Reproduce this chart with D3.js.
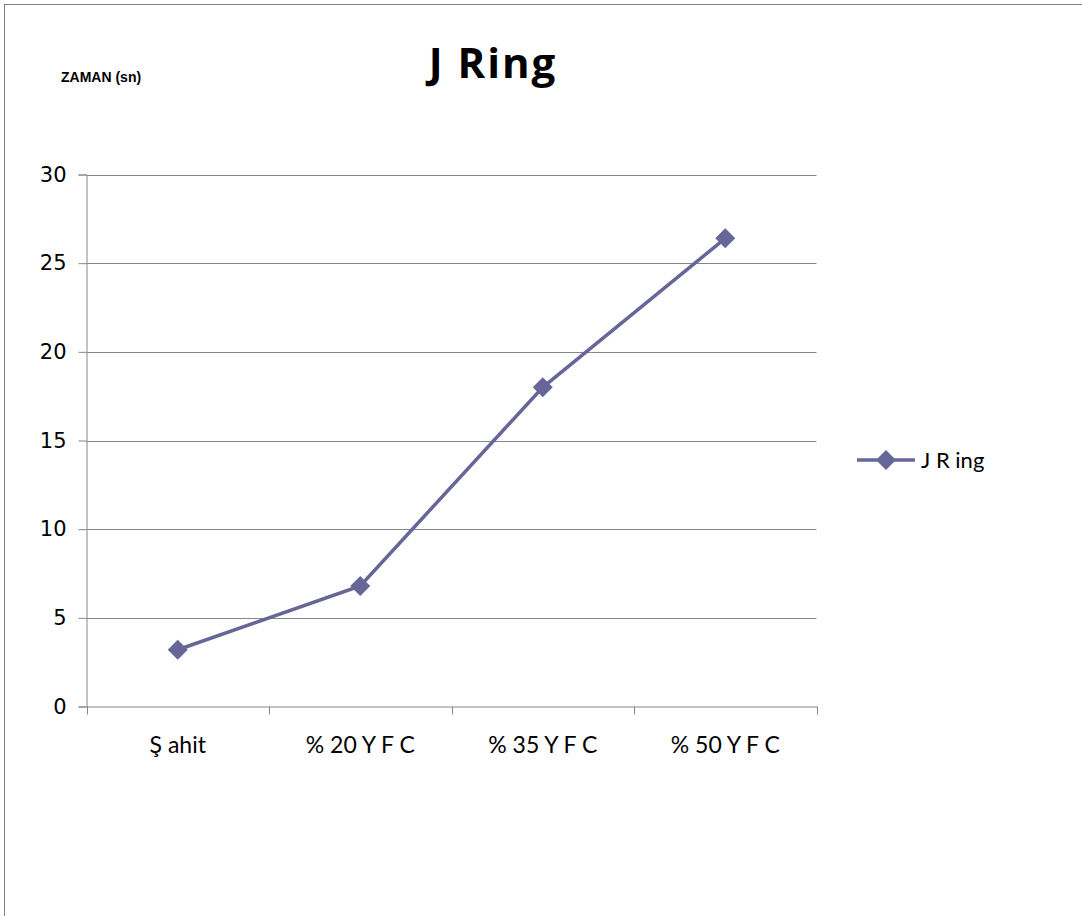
<!DOCTYPE html>
<html>
<head>
<meta charset="utf-8">
<script src="https://cdn.jsdelivr.net/npm/d3@7"></script>
<style>
  html, body { margin: 0; padding: 0; background: #fff; }
  svg { display: block; }
</style>
</head>
<body>
<svg id="chart" width="1082" height="916"></svg>
<script>
// J Ring flow times per mix
const categories = ["Ş ahit", "% 20 Y F C", "% 35 Y F C", "% 50 Y F C"];
const values = [3.2, 6.8, 18.0, 26.4];
const yTicks = [0, 5, 10, 15, 20, 25, 30];
const seriesName = "J R ing";
const titleText = "J Ring";
const yAxisTitle = "ZAMAN (sn)";

const W = 1082, H = 916;
const svg = d3.select("#chart");
const color = "#666699";
const gridColor = "#868686";
const labelFont = "Lato, 'Open Sans', sans-serif";

// outer frame
svg.append("rect")
  .attr("x", 4.5).attr("y", 4.5)
  .attr("width", W + 10).attr("height", H + 10)
  .attr("fill", "none").attr("stroke", "#808080").attr("stroke-width", 1);

const plot = { left: 86.5, right: 816.5, top: 174.5, bottom: 706.5 };

const x = d3.scaleBand().domain(categories).range([plot.left, plot.right]);
const y = d3.scaleLinear().domain([0, 30]).range([plot.bottom, plot.top]);

// horizontal gridlines
svg.append("g")
  .selectAll("line")
  .data(yTicks.filter(d => d > 0))
  .join("line")
  .attr("x1", plot.left).attr("x2", plot.right)
  .attr("y1", d => Math.round(y(d)) + 0.5).attr("y2", d => Math.round(y(d)) + 0.5)
  .attr("stroke", gridColor).attr("stroke-width", 1);

// y axis
const yAxis = svg.append("g")
  .attr("transform", `translate(${plot.left},0)`)
  .call(d3.axisLeft(y).tickValues(yTicks).tickSize(8).tickPadding(12).tickFormat(d3.format("d")));
yAxis.select(".domain").attr("stroke", gridColor);
yAxis.selectAll(".tick line").attr("stroke", gridColor);
yAxis.selectAll(".tick text")
  .attr("font-family", "'DejaVu Sans', sans-serif")
  .attr("font-size", 21).attr("fill", "#000");

// x axis
const xAxis = svg.append("g")
  .attr("transform", `translate(0,${plot.bottom})`)
  .call(d3.axisBottom(x).tickSize(0).tickPadding(30));
xAxis.select(".domain").attr("stroke", gridColor);
xAxis.selectAll(".tick text")
  .attr("font-family", labelFont)
  .attr("font-size", 23).attr("fill", "#000");

// tick marks at category boundaries
const bounds = [plot.left].concat(categories.map(c => x(c) + x.bandwidth()));
svg.append("g").selectAll("line")
  .data(bounds)
  .join("line")
  .attr("x1", d => Math.round(d) + 0.5).attr("x2", d => Math.round(d) + 0.5)
  .attr("y1", plot.bottom).attr("y2", plot.bottom + 8)
  .attr("stroke", gridColor);

// series line
const cx = c => x(c) + x.bandwidth() / 2;
const line = d3.line().x((d, i) => cx(categories[i])).y(d => y(d));
svg.append("path")
  .datum(values)
  .attr("d", line)
  .attr("fill", "none")
  .attr("stroke", color)
  .attr("stroke-width", 3.5);

// diamond markers
const diamond = d3.symbol().type(d3.symbolSquare).size(200);
svg.append("g").selectAll("path")
  .data(values)
  .join("path")
  .attr("d", diamond)
  .attr("transform", (d, i) => `translate(${cx(categories[i])},${y(d)}) rotate(45)`)
  .attr("fill", color);

// title
svg.append("text")
  .attr("x", 493).attr("y", 78)
  .attr("text-anchor", "middle")
  .attr("font-family", "'Open Sans', sans-serif")
  .attr("font-weight", "bold")
  .attr("font-size", 42)
  .attr("letter-spacing", 2)
  .attr("fill", "#000")
  .text(titleText);

// y axis title
svg.append("text")
  .attr("x", 61).attr("y", 82)
  .attr("font-family", "'Liberation Sans', Arial, sans-serif")
  .attr("font-weight", "bold")
  .attr("font-size", 14)
  .attr("fill", "#000")
  .text(yAxisTitle);

// legend
const lg = svg.append("g").attr("transform", "translate(857,460)");
lg.append("line").attr("x1", 0).attr("x2", 58).attr("y1", 0).attr("y2", 0)
  .attr("stroke", color).attr("stroke-width", 3.5);
lg.append("path").attr("d", diamond).attr("transform", "translate(29,0) rotate(45)").attr("fill", color);
lg.append("text")
  .attr("x", 64).attr("y", 8)
  .attr("font-family", labelFont)
  .attr("font-size", 22)
  .attr("fill", "#000")
  .text(seriesName);
</script>
</body>
</html>
